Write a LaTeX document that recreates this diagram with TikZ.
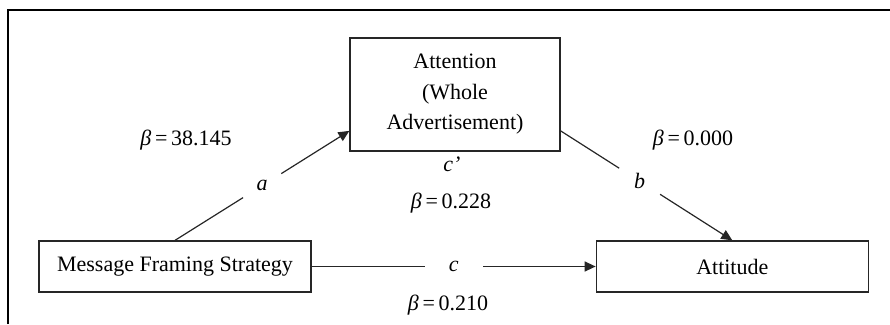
\documentclass[tikz,border=0pt]{standalone}
\usepackage{fontspec}
\setmainfont{Liberation Serif}
\usetikzlibrary{arrows.meta,positioning}
\definecolor{ink}{HTML}{262626}

\begin{document}
\begin{tikzpicture}[
  x=1pt, y=1pt,
  font=\fontsize{22}{30.5}\selectfont,
  box/.style={draw=ink, line width=1.3pt, align=center, minimum height=51pt, inner sep=4pt},
  link/.style={-{Triangle[length=11pt,width=10pt]}, line width=1.2pt, draw=ink},
  cut/.style={fill=white, circle, inner sep=10.5pt},
  coef/.style={anchor=base}
]
\useasboundingbox (0,0) rectangle (890,324);
\draw[line width=2pt] (8,0) -- (8,314) -- (890,314);

\node[box,minimum width=272pt] (framing) at (175,57.5) {Message Framing Strategy};
\node[box,minimum width=272pt,right=284pt of framing] (attitude) {Attitude};
\node[box,minimum width=210pt,minimum height=113pt] (attention) at (455,229.5) {
  Attention\\
  (Whole\\
  Advertisement)
};

\draw[link] (framing.north) -- node[cut]{\textit{a}} (attention.199);
\draw[link] (attention.341) -- node[cut,pos=0.46]{\textit{b}} (attitude.north);
\draw[link] (framing) -- node[fill=white,inner xsep=24pt]{\textit{c}} (attitude);

\node[coef] (coefA) at (186,178) {\textit{β}\,=\,38.145};
\node[coef] (coefB) at (693,178) {\textit{β}\,=\,0.000};
\node[coef] (cprime) at (452,152) {\textit{c’}};
\node[coef] (coefCp) at (451,116) {\textit{β}\,=\,0.228};
\node[coef] (coefC) at (448,14) {\textit{β}\,=\,0.210};

\end{tikzpicture}
\end{document}
